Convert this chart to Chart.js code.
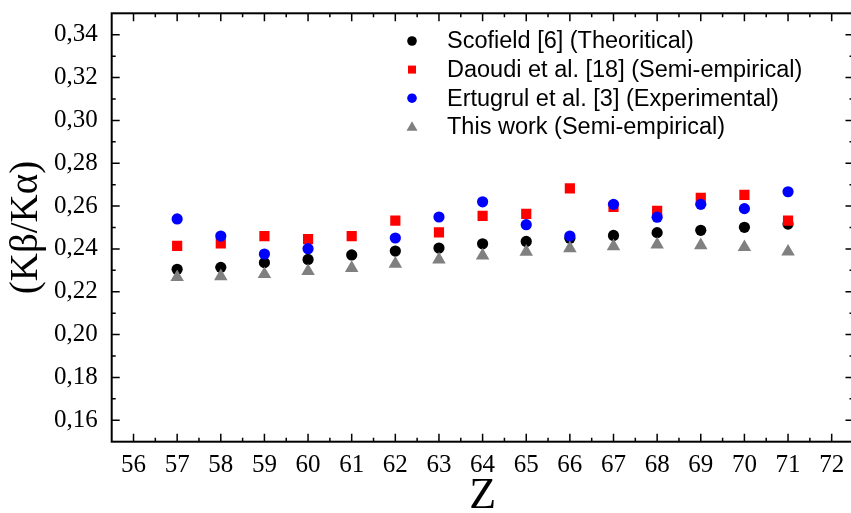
<!DOCTYPE html>
<html>
<head>
<meta charset="utf-8">
<script src="https://cdn.jsdelivr.net/npm/chart.js@4.4.1/dist/chart.umd.min.js"></script>
<style>
  html, body { margin: 0; padding: 0; background: #fff; overflow: hidden; }
  #caja { width: 855px; height: 513px; }
  canvas { display: block; width: 855px; height: 513px; }
</style>
</head>
<body>
<div id="caja"><canvas id="grafico" width="855" height="513"></canvas></div>
<script>
// datos
const zValores = [57, 58, 59, 60, 61, 62, 63, 64, 65, 66, 67, 68, 69, 70, 71];
const scofield = [0.2305, 0.2314, 0.2336, 0.2351, 0.2372, 0.2390, 0.2404, 0.2424, 0.2435, 0.2450, 0.2463, 0.2476, 0.2487, 0.2501, 0.2516];
const daoudi   = [0.2414, 0.2426, 0.2460, 0.2446, 0.2460, 0.2532, 0.2477, 0.2554, 0.2564, 0.2683, 0.2596, 0.2578, 0.2639, 0.2652, 0.2532];
const ertugrul = [0.2540, 0.2460, 0.2376, 0.2401, null,   0.2451, 0.2549, 0.2620, 0.2513, 0.2460, 0.2608, 0.2548, 0.2608, 0.2588, 0.2667];
const esteTrabajo = [0.2268, 0.2272, 0.2282, 0.2296, 0.2311, 0.2330, 0.2350, 0.2369, 0.2386, 0.2403, 0.2412, 0.2420, 0.2417, 0.2408, 0.2387];

const xTicks = [56, 57, 58, 59, 60, 61, 62, 63, 64, 65, 66, 67, 68, 69, 70, 71, 72];
const yTicks = [0.16, 0.18, 0.20, 0.22, 0.24, 0.26, 0.28, 0.30, 0.32, 0.34];
const etiquetas = [
  'Scofield [6] (Theoritical)',
  'Daoudi et al. [18] (Semi-empirical)',
  'Ertugrul et al. [3] (Experimental)',
  'This work (Semi-empirical)'
];

const puntos = (serie) => zValores.map((z, i) => ({ x: z, y: serie[i] })).filter(p => p.y !== null);

// marco con marcas hacia adentro en los cuatro lados
const marcoPlugin = {
  id: 'marco',
  afterDraw(chart) {
    const { ctx, chartArea: a, scales } = chart;
    const sx = scales.x, sy = scales.y;
    ctx.save();
    ctx.strokeStyle = '#000';
    ctx.lineWidth = 1.5;
    ctx.beginPath();
    xTicks.forEach(v => {
      const px = sx.getPixelForValue(v);
      ctx.moveTo(px, a.bottom); ctx.lineTo(px, a.bottom - 8);
      ctx.moveTo(px, a.top); ctx.lineTo(px, a.top + 8);
      const pm = sx.getPixelForValue(v + 0.5);
      if (v + 0.5 < sx.max) {
        ctx.moveTo(pm, a.bottom); ctx.lineTo(pm, a.bottom - 4);
        ctx.moveTo(pm, a.top); ctx.lineTo(pm, a.top + 4);
      }
    });
    yTicks.forEach(v => {
      const py = sy.getPixelForValue(v);
      ctx.moveTo(a.left, py); ctx.lineTo(a.left + 8, py);
      ctx.moveTo(a.right, py); ctx.lineTo(a.right - 8, py);
      [v - 0.01, v + 0.01].forEach(m => {
        if (m > sy.min + 0.001 && m < sy.max - 0.001) {
          const pm = sy.getPixelForValue(m);
          ctx.moveTo(a.left, pm); ctx.lineTo(a.left + 4, pm);
          ctx.moveTo(a.right, pm); ctx.lineTo(a.right - 4, pm);
        }
      });
    });
    ctx.stroke();
    ctx.lineWidth = 2;
    ctx.strokeRect(a.left, a.top, a.right - a.left, a.bottom - a.top);
    ctx.restore();
  }
};

// leyenda dentro del area
const leyendaPlugin = {
  id: 'leyenda',
  afterDraw(chart) {
    const { ctx } = chart;
    const filas = [41, 69.6, 98.2, 126.8];
    ctx.save();
    ctx.font = '23.5px "Liberation Sans", Arial, sans-serif';
    ctx.textBaseline = 'middle';
    ctx.textAlign = 'left';
    chart.data.datasets.forEach((ds, i) => {
      const y = filas[i], x = 412;
      ctx.fillStyle = ds.backgroundColor;
      ctx.beginPath();
      if (ds.pointStyle === 'circle') {
        ctx.arc(x, y, 4.8, 0, Math.PI * 2);
      } else if (ds.pointStyle === 'rect') {
        ctx.rect(x - 4, y - 4, 8, 8);
      } else {
        ctx.moveTo(x, y - 5.5);
        ctx.lineTo(x + 5.5, y + 4);
        ctx.lineTo(x - 5.5, y + 4);
        ctx.closePath();
      }
      ctx.fill();
      ctx.fillStyle = '#000';
      ctx.fillText(ds.label, 447, y + 1);
    });
    ctx.restore();
  }
};

const serif = '"Liberation Serif", "Times New Roman", serif';

new Chart(document.getElementById('grafico').getContext('2d'), {
  type: 'scatter',
  data: {
    datasets: [
      { label: etiquetas[0], data: puntos(scofield), pointStyle: 'circle', pointRadius: 5.6, backgroundColor: '#000000', borderColor: '#000000', pointBorderWidth: 0, order: 4 },
      { label: etiquetas[1], data: puntos(daoudi), pointStyle: 'rect', pointRadius: 7.2, backgroundColor: '#ff0000', borderColor: '#ff0000', pointBorderWidth: 0, order: 3 },
      { label: etiquetas[2], data: puntos(ertugrul), pointStyle: 'circle', pointRadius: 5.6, backgroundColor: '#0000ff', borderColor: '#0000ff', pointBorderWidth: 0, order: 2 },
      { label: etiquetas[3], data: puntos(esteTrabajo), pointStyle: 'triangle', pointRadius: 7.8, backgroundColor: '#808080', borderColor: '#808080', pointBorderWidth: 0, order: 1 }
    ]
  },
  options: {
    responsive: false,
    animation: false,
    devicePixelRatio: 1,
    layout: { autoPadding: false, padding: { top: 13.3, right: 1.5, left: 0, bottom: 0 } },
    plugins: {
      legend: { display: false },
      tooltip: { enabled: false }
    },
    scales: {
      x: {
        type: 'linear',
        min: 55.5,
        max: 72.5,
        afterBuildTicks: (s) => { s.ticks = xTicks.map(v => ({ value: v })); },
        afterFit: (s) => { s.height = 71.3; s.paddingLeft = 0; s.paddingRight = 0; },
        grid: { display: false, drawTicks: false },
        border: { display: false },
        ticks: {
          autoSkip: false,
          maxRotation: 0,
          padding: 9,
          color: '#000',
          font: { family: serif, size: 25 },
          callback: (v) => String(v)
        },
        title: {
          display: true,
          text: 'Z',
          color: '#000',
          font: { family: serif, size: 44, lineHeight: 1 },
          padding: { top: 0, bottom: -5 }
        }
      },
      y: {
        type: 'linear',
        min: 0.15,
        max: 0.35,
        afterBuildTicks: (s) => { s.ticks = yTicks.map(v => ({ value: v })); },
        afterFit: (s) => { s.width = 111.7; s.paddingTop = 0; s.paddingBottom = 0; },
        grid: { display: false, drawTicks: false },
        border: { display: false },
        ticks: {
          padding: 14,
          color: '#000',
          font: { family: serif, size: 25 },
          callback: (v) => v.toFixed(2).replace('.', ',')
        },
        title: {
          display: true,
          text: '(Kβ/Kα)',
          color: '#000',
          font: { family: serif, size: 39, lineHeight: 1 },
          padding: { top: 7, bottom: 0 }
        }
      }
    }
  },
  plugins: [marcoPlugin, leyendaPlugin]
});
</script>
</body>
</html>
